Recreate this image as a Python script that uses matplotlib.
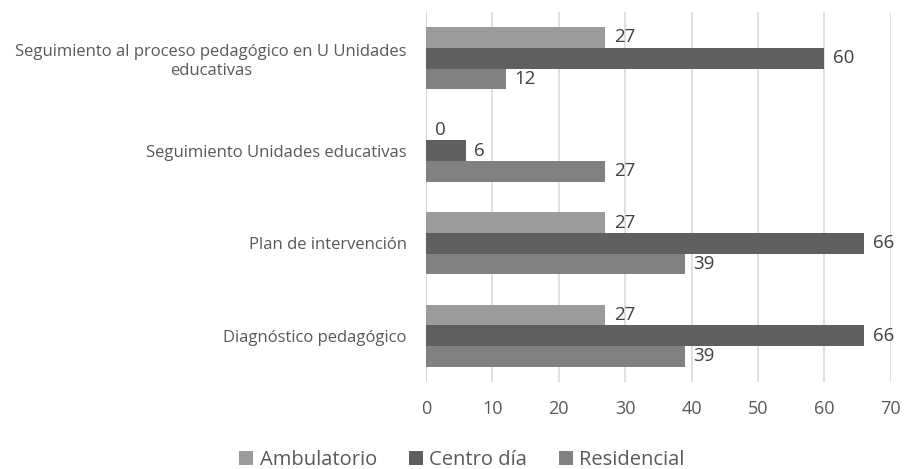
import matplotlib
matplotlib.use("Agg")
import matplotlib.pyplot as plt
import numpy as np

plt.rcParams['font.family'] = ['Open Sans', 'DejaVu Sans']

categories = ["Seguimiento al proceso pedagógico en U Unidades\neducativas",
              "Seguimiento Unidades educativas",
              "Plan de intervención",
              "Diagnóstico pedagógico"]
series_names = ["Ambulatorio", "Centro día", "Residencial"]
ambulatorio = [27, 0, 27, 27]
centro_dia = [60, 6, 66, 66]
residencial = [12, 27, 39, 39]
xticks = [0, 10, 20, 30, 40, 50, 60, 70]
colors = ["#9b9b9d", "#5f5f61", "#818183"]

fig = plt.figure(figsize=(9.06, 4.69), dpi=100)
ax = fig.add_axes([0.4702, 0.1855, 0.513, 0.789])

n = len(categories)
y = np.arange(n)
h = 0.224
text_color = "#595959"
for i, (vals, name, c) in enumerate(zip([ambulatorio, centro_dia, residencial], series_names, colors)):
    pos = y + (i - 1) * h
    ax.barh(pos, vals, height=h, color=c, label=name, zorder=3)
    for p, v in zip(pos, vals):
        ax.text(v + 1.3, p, str(v), va='center', ha='left', fontsize=13.5, color="#404040")

ax.set_ylim(n - 0.5, -0.5)
ax.set_xlim(0, 70)
ax.set_xticks(xticks)
ax.set_yticks(y)
ax.set_yticklabels(categories, fontsize=12, color=text_color, ha='right', multialignment='center')
ax.tick_params(axis='x', labelsize=13, colors=text_color, length=0, pad=13)
ax.tick_params(axis='y', length=0, pad=14)
ax.grid(axis='x', color='#d9d9d9', linewidth=1.2, zorder=0)
for s in ax.spines.values():
    s.set_visible(False)
ax.axvline(0, color='#d0d0d0', linewidth=1.2, zorder=1)

handles, labels = ax.get_legend_handles_labels()
fig.legend(handles, labels, loc='lower center', bbox_to_anchor=(0.51, -0.04), ncol=3, frameon=False,
           fontsize=14.5, handlelength=0.7, handleheight=0.7, handletextpad=0.3, columnspacing=1.6,
           labelcolor=text_color)

fig.savefig("out.png", dpi=100)
